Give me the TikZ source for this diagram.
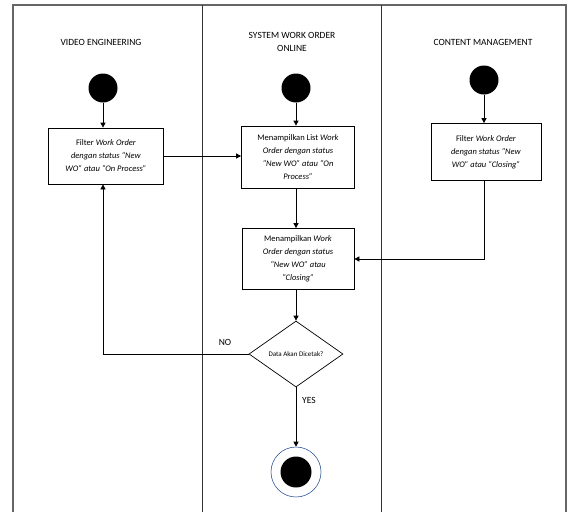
\documentclass[tikz,border=0pt]{standalone}
\usepackage{fontspec}
\setmainfont{Carlito}
\usetikzlibrary{arrows.meta,shapes.geometric}
\definecolor{ringblue}{RGB}{47,85,151}
\begin{document}
\begin{tikzpicture}[x=1pt,y=-1pt,
  lane/.style={draw=black!80,line width=0.8pt},
  lanetitle/.style={font=\fontsize{9.5}{13}\selectfont,align=center},
  actbox/.style={draw,line width=0.7pt,minimum width=#1,align=center,inner sep=1pt,
    font=\fontsize{8.5}{13}\selectfont},
  startnode/.style={circle,fill=black,minimum size=29pt,inner sep=0pt},
  flow/.style={line width=0.7pt,-{Triangle[length=5pt,width=5pt]}},
  lbl/.style={font=\fontsize{9.5}{11}\selectfont}]
\useasboundingbox (0,0) rectangle (570,512);
% swimlanes
\draw[lane,draw=black!60,line width=1.2pt] (13,512) -- (13,5) -- (566,5) -- (566,512);
\draw[lane] (202,5) -- (202,512);
\draw[lane] (381,5) -- (381,512);
\node[lanetitle] (t1) at (101,42) {VIDEO ENGINEERING};
\node[lanetitle] (t2) at (292,42) {SYSTEM WORK ORDER\\ONLINE};
\node[lanetitle] (t3) at (483,42) {CONTENT MANAGEMENT};
% start nodes
\node[startnode] (s1) at (103,88) {};
\node[startnode] (s2) at (296,88) {};
\node[startnode] (s3) at (484,80) {};
% activities
\node[actbox=115pt,minimum height=56pt] (b1) at (106,156)
  {Filter \textit{Work Order}\\\textit{dengan status “New}\\\textit{WO” atau “On Process”}};
\node[actbox=113pt,minimum height=62pt] (b2) at (298,157)
  {Menampilkan List \textit{Work}\\\textit{Order dengan status}\\\textit{“New WO” atau “On}\\\textit{Process”}};
\node[actbox=110pt,minimum height=57pt] (b3) at (486,152)
  {Filter \textit{Work Order}\\\textit{dengan status “New}\\\textit{WO” atau “Closing”}};
\node[actbox=112pt,minimum height=61pt] (b4) at (298,259)
  {Menampilkan \textit{Work}\\\textit{Order dengan status}\\\textit{“New WO” atau}\\\textit{“Closing”}};
% decision
\node[diamond,draw,line width=0.7pt,minimum width=94pt,minimum height=66pt,inner sep=0pt,
  font=\fontsize{7}{8}\selectfont] (d) at (296,354) {Data Akan Dicetak?};
% end node
\node[circle,draw=ringblue,line width=0.6pt,minimum size=50pt,inner sep=0pt] (e) at (296,472) {};
\node[circle,fill=black,minimum size=31pt,inner sep=0pt] (ei) at (e.center) {};
% connectors
\draw[flow] (s1) -- (b1.north -| s1);
\draw[flow] (s2) -- (b2.north -| s2);
\draw[flow] (s3) -- (b3.north -| s3);
\draw[flow] (b1.east) -- (b2.west |- b1.east);
\draw[flow] (b2.south -| s2) -- (b4.north -| s2);
\draw[flow] (b3.south -| s3) |- (b4.east);
\draw[flow] (b4.south -| d) -- (d.north);
\draw[flow] (d.west) -| (b1.south -| s1);
\draw[flow] (d.south) -- (e.north);
\node[lbl] (no) at (225,342) {NO};
\node[lbl] (yes) at (309,400) {YES};
\end{tikzpicture}
\end{document}
